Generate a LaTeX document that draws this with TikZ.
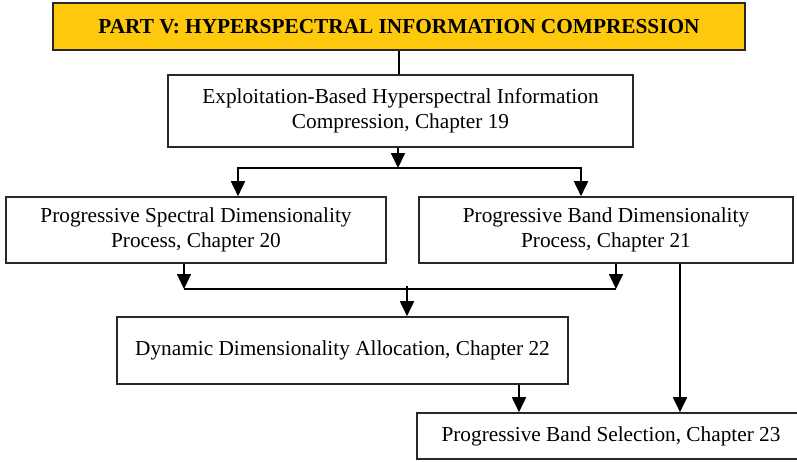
\documentclass[tikz,border=0pt]{standalone}
\usepackage{fontspec}
\setmainfont{Liberation Serif}
\usetikzlibrary{arrows.meta, positioning}
\definecolor{partyellow}{RGB}{254,200,12}
\definecolor{boxline}{RGB}{40,40,40}

\tikzset{
  chapter/.style={draw=boxline, line width=1.6pt, fill=white, align=center,
    inner sep=0pt, font=\fontsize{21.3}{25}\selectfont},
  part/.style={chapter, line width=2.8pt, fill=partyellow,
    font=\fontsize{21.3}{25}\selectfont\bfseries},
  link/.style={line width=1.8pt},
  arr/.style={link, -{Triangle[length=15pt, width=14pt]}},
}

\begin{document}
\begin{tikzpicture}[x=1pt, y=-1pt]
  \useasboundingbox (0,0) rectangle (797,461);
  \node[part, minimum width=692pt, minimum height=47pt]    (part5)  at (399,26.5)  {PART V: HYPERSPECTRAL INFORMATION COMPRESSION};
  \node[chapter, minimum width=465pt, minimum height=72pt] (chap19) at (400.5,111) {Exploitation-Based Hyperspectral Information\\Compression, Chapter 19};
  \node[chapter, minimum width=380pt, minimum height=66pt] (chap20) at (196,230)   {Progressive Spectral Dimensionality\\Process, Chapter 20};
  \node[chapter, minimum width=374pt, minimum height=66pt] (chap21) at (606,230)   {Progressive Band Dimensionality\\Process, Chapter 21};
  \node[chapter, minimum width=451pt, minimum height=67pt] (chap22) at (342.5,350.5) {Dynamic Dimensionality Allocation, Chapter 22};
  \node[chapter, minimum width=388pt, minimum height=46pt] (chap23) at (611,436)   {Progressive Band Selection, Chapter 23};

  % forks between the rows
  \coordinate (fork_a) at (398,168);
  \coordinate (fork_b) at (407,286);
  \coordinate (join_l) at ([xshift=-12pt]chap20.south |- 0,289);
  \coordinate (join_r) at ([xshift=10pt]chap21.south |- 0,289);

  \draw[link] (part5.south) -- (part5.south |- chap19.north);
  \draw[arr] (fork_a |- chap19.south) -- (fork_a);
  \draw[arr] (fork_a) -| ([xshift=42pt]chap20.north);
  \draw[arr] (fork_a) -| ([xshift=-25pt]chap21.north);

  \draw[arr] ([xshift=-12pt]chap20.south) -- (join_l);
  \draw[arr] ([xshift=10pt]chap21.south) -- (join_r);
  \draw[link] (join_l) -- (join_r);
  \draw[arr] (fork_b) -- (fork_b |- chap22.north);

  \draw[arr] ([xshift=176.5pt]chap22.south) -- ([xshift=176.5pt]chap22.south |- chap23.north);
  \draw[arr] ([xshift=74pt]chap21.south) -- ([xshift=74pt]chap21.south |- chap23.north);
\end{tikzpicture}
\end{document}
